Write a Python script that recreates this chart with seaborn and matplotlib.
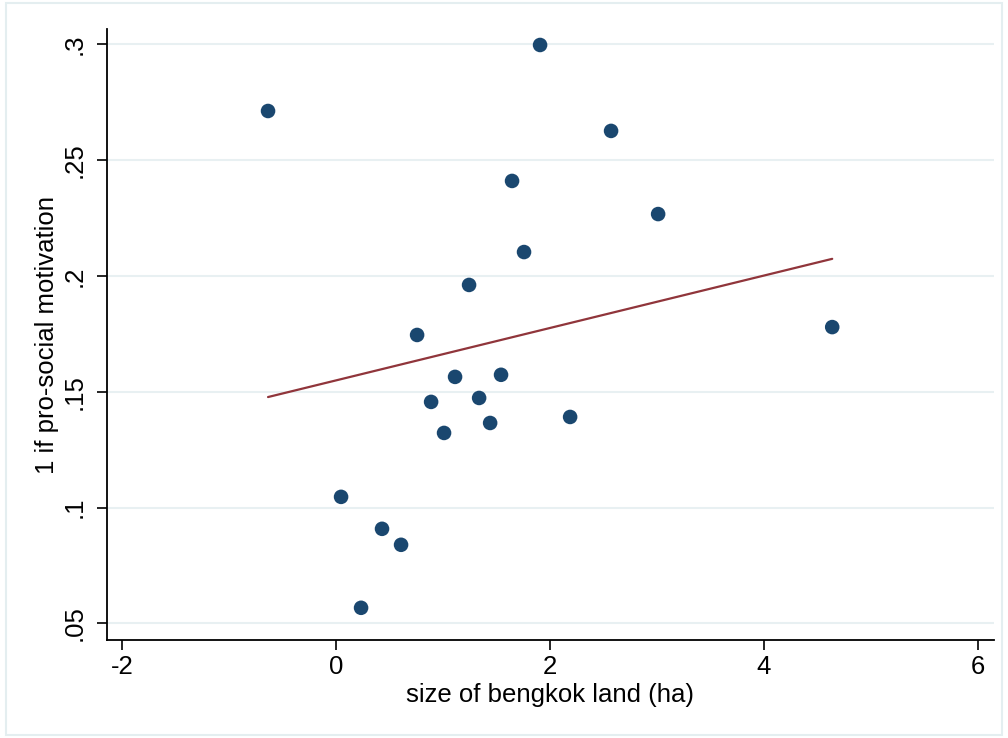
import matplotlib
matplotlib.use("Agg")
import matplotlib.pyplot as plt
import seaborn as sns
import numpy as np
import pandas as pd
from matplotlib.patches import Rectangle

# Binned scatter data (size of bengkok land vs. share pro-social motivation)
land_size = [-0.637, 1.907, 2.571, 1.645, 3.011, 1.757, 1.243, 0.757, 4.639, 1.112,
             1.542, 0.888, 1.337, 1.440, 1.009, 2.188, 0.046, 0.429, 0.607, 0.233]
prosocial = [0.2712, 0.2997, 0.2626, 0.2410, 0.2267, 0.2103, 0.1961, 0.1745, 0.1779, 0.1564,
             0.1573, 0.1456, 0.1473, 0.1365, 0.1322, 0.1391, 0.1046, 0.0908, 0.0839, 0.0567]

# Linear fit line
fit_intercept = 0.1549
fit_slope = 0.01131

x_ticks = [-2, 0, 2, 4, 6]
y_ticks = [0.05, 0.10, 0.15, 0.20, 0.25, 0.30]
y_tick_labels = [".05", ".1", ".15", ".2", ".25", ".3"]

df = pd.DataFrame({"x": land_size, "y": prosocial})

sns.set_theme(style="white")
plt.rcParams["font.family"] = ["Liberation Sans", "DejaVu Sans"]

fig = plt.figure(figsize=(10.08, 7.38), dpi=100)
fig.patch.set_facecolor("white")
fig.patches.append(Rectangle((6 / 1008, 3 / 738), 1 - 12 / 1008, 1 - 6 / 738,
                             transform=fig.transFigure, fill=False,
                             edgecolor="#e4eef0", linewidth=1.5))

ax = fig.add_axes([107 / 1008, 1 - 640 / 738, (994 - 107) / 1008, (640 - 29) / 738])
ax.set_facecolor("white")

for yt in y_ticks:
    ax.axhline(yt, color="#e8f0f2", linewidth=1.5, zorder=0)

xs = np.array([min(land_size), max(land_size)])
sns.lineplot(x=xs, y=fit_intercept + fit_slope * xs, ax=ax, color="#90353b",
             linewidth=1.6, zorder=2)
sns.scatterplot(data=df, x="x", y="y", ax=ax, color="#1a476f", s=110,
                edgecolor="none", linewidth=0, zorder=3)

ax.set_xlim(-2.143, 6.152)
ax.set_ylim(0.0428, 0.3066)
ax.set_xticks(x_ticks)
ax.set_xticklabels([str(t) for t in x_ticks])
ax.set_yticks(y_ticks)
ax.set_yticklabels(y_tick_labels, rotation=90, va="center")

for side in ["top", "right"]:
    ax.spines[side].set_visible(False)
for side in ["left", "bottom"]:
    ax.spines[side].set_color("black")
    ax.spines[side].set_linewidth(1.3)

ax.tick_params(axis="both", direction="out", length=7, width=1.2, color="black",
               labelsize=18.5, labelcolor="black", left=True, bottom=True)
ax.tick_params(axis="x", pad=4)
ax.tick_params(axis="y", pad=8)

ax.set_xlabel("size of bengkok land (ha)", fontsize=18.5, color="black", labelpad=3)
ax.set_ylabel("1 if pro-social motivation", fontsize=18.5, color="black", labelpad=2)

fig.savefig("out.png", dpi=100, facecolor="white")
